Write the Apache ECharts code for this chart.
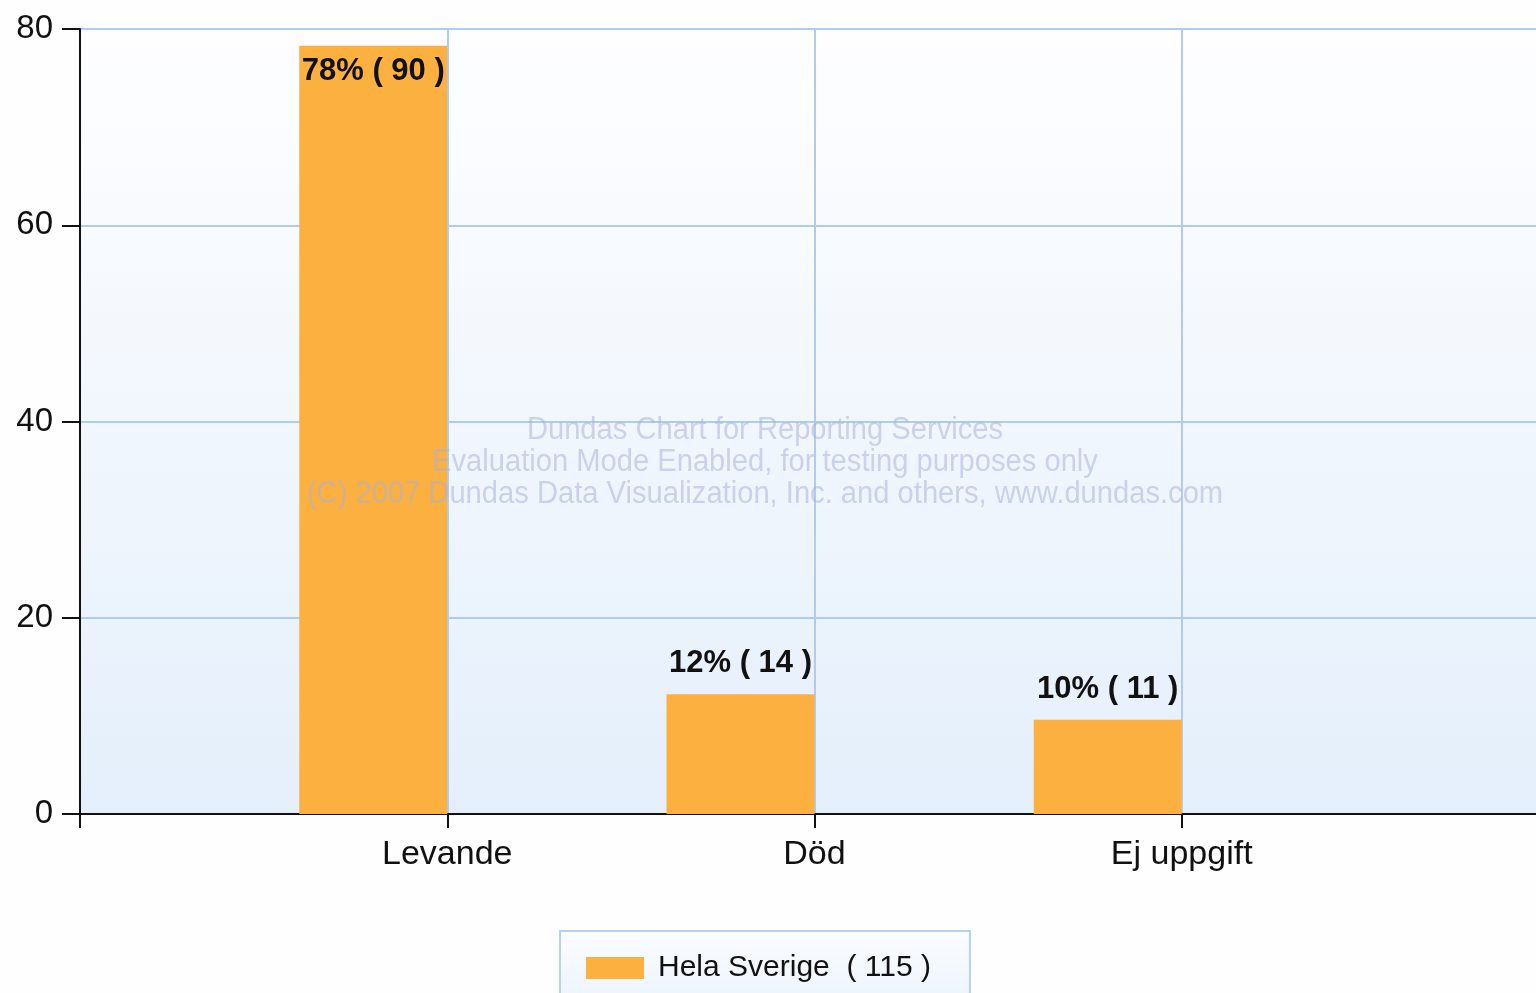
<!DOCTYPE html>
<html>
<head>
<meta charset="utf-8">
<script src="https://cdn.jsdelivr.net/npm/echarts@6/dist/echarts.min.js"></script>
<style>
html,body{margin:0;padding:0;background:#fefefe;}
#c{width:1536px;height:993px;}
</style>
</head>
<body>
<div id="c"></div>
<script>
const categories = ['Levande', 'Död', 'Ej uppgift'];
const positions = [1, 2, 3];
const percentValues = [78.3, 12.2, 9.6];
const pctLabels = ['78%', '12%', '10%'];
const counts = [90, 14, 11];
const seriesName = 'Hela Sverige  ( 115 )';
const yTicks = [0, 20, 40, 60, 80];
const watermark = [
  'Dundas Chart for Reporting Services',
  'Evaluation Mode Enabled, for testing purposes only',
  '(C) 2007 Dundas Data Visualization, Inc. and others, www.dundas.com'
];

const font = 'Liberation Sans, Arial, sans-serif';
const chart = echarts.init(document.getElementById('c'));

const barData = positions.map((p, i) => {
  const item = { value: [p, percentValues[i]] };
  if (i === 0) {
    item.label = { position: 'insideTop', distance: 10 };
  }
  return item;
});

chart.setOption({
  animation: false,
  backgroundColor: '#fefefe',
  grid: {
    left: 80, top: 29, bottom: 179, right: -13,
    outerBoundsMode: 'none',
    containLabel: false,
    show: true,
    borderWidth: 0,
    backgroundColor: new echarts.graphic.LinearGradient(0, 0, 0, 1, [
      { offset: 0, color: '#fefeff' },
      { offset: 1, color: '#e4effb' }
    ])
  },
  legend: {
    data: [seriesName],
    left: 560, top: 931,
    padding: [22, 39, 40, 26],
    itemWidth: 58, itemHeight: 22, itemGap: 10,
    icon: 'rect',
    backgroundColor: new echarts.graphic.LinearGradient(0, 0, 0, 1, [
      { offset: 0, color: '#fbfdff' },
      { offset: 1, color: '#e8f1fc' }
    ]),
    borderColor: '#b7d1f3', borderWidth: 2, borderRadius: 0,
    textStyle: { fontFamily: font, fontSize: 30, color: '#111', padding: [0, 0, 0, 9] }
  },
  xAxis: {
    type: 'value', min: 0, max: 4, interval: 1,
    axisLine: { show: true, lineStyle: { color: '#111', width: 2 } },
    axisTick: { show: true, length: 14, lineStyle: { color: '#111', width: 2 } },
    axisLabel: {
      margin: 24, fontFamily: font, fontSize: 34, color: '#111',
      formatter: v => (v >= 1 && v <= categories.length) ? categories[v - 1] : ''
    },
    splitLine: { show: true, lineStyle: { color: '#aecbf2', width: 2 } }
  },
  yAxis: {
    type: 'value', min: yTicks[0], max: yTicks[yTicks.length - 1], interval: 20,
    axisLine: { show: true, lineStyle: { color: '#111', width: 2 } },
    axisTick: { show: true, length: 18, lineStyle: { color: '#111', width: 2 } },
    axisLabel: { margin: 27, fontFamily: font, fontSize: 33, color: '#111' },
    splitLine: { show: true, lineStyle: { color: '#aecbf2', width: 2 } }
  },
  series: [
    {
      name: seriesName,
      type: 'bar',
      barWidth: 148,
      barGap: '0%',
      itemStyle: { color: '#fbb03f' },
      label: {
        show: true, position: 'top', distance: 15,
        fontFamily: font, fontWeight: 'bold', fontSize: 31, color: '#111',
        formatter: p => pctLabels[p.dataIndex] + ' ( ' + counts[p.dataIndex] + ' )'
      },
      data: barData,
      z: 3
    },
    {
      name: 'spacer',
      type: 'bar',
      barWidth: 148,
      barGap: '0%',
      itemStyle: { color: 'transparent' },
      data: positions.map(p => [p, 0]),
      silent: true
    }
  ],
  graphic: watermark.map((t, i) => ({
    type: 'text',
    x: 765,
    y: 430 + i * 32,
    scaleX: 0.94,
    z: 100,
    style: {
      text: t,
      textAlign: 'center',
      textVerticalAlign: 'middle',
      fontFamily: font,
      fontSize: 31,
      fill: 'rgba(170,178,220,0.55)'
    }
  }))
});
</script>
</body>
</html>
